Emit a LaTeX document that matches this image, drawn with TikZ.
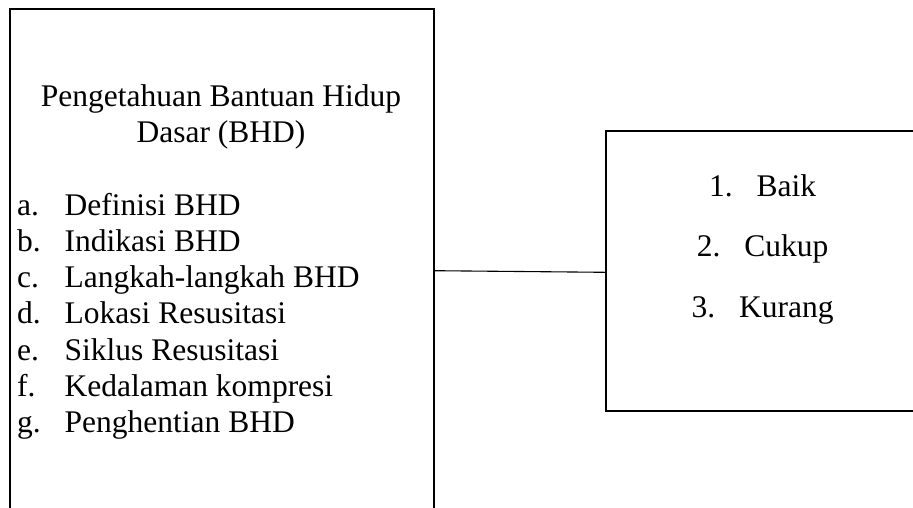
\documentclass[tikz,border=0pt]{standalone}
\usepackage{fontspec}
\setmainfont{Liberation Serif}
\usetikzlibrary{calc}
\begin{document}
\begin{tikzpicture}[x=1pt,y=-1pt,
  frame/.style={draw, line width=2.2pt, rectangle, inner sep=0pt, anchor=north west},
  txt/.style={inner sep=0pt, font=\fontsize{31.5}{36.3}\selectfont},
  item/.style={txt, anchor=base west},
  lineC/.style={txt, anchor=base},
  link/.style={draw, line width=1.1pt}]
\useasboundingbox (0,0) rectangle (913,507);
\newcommand{\lbl}[1]{\makebox[47.5pt][l]{#1}}

% the two frames (parts fall outside the page)
\node[frame, minimum width=424pt, minimum height=560pt] (lbox) at (9,8) {};
\node[frame, minimum width=316pt, minimum height=280pt] (rbox) at (605,130) {};

% heading of the left frame
\node[lineC] (t1) at (221,106) {Pengetahuan Bantuan Hidup};
\node[lineC] (t2) at (221,142.3) {Dasar (BHD)};

% lettered list
\node[item] (la) at (17,215.0) {\lbl{a.}Definisi BHD};
\node[item] (lb) at (17,251.3) {\lbl{b.}Indikasi BHD};
\node[item] (lc) at (17,287.6) {\lbl{c.}Langkah-langkah BHD};
\node[item] (ld) at (17,323.9) {\lbl{d.}Lokasi Resusitasi};
\node[item] (le) at (17,360.2) {\lbl{e.}Siklus Resusitasi};
\node[item] (lf) at (17,396.5) {\lbl{f.}Kedalaman kompresi};
\node[item] (lg) at (17,432.8) {\lbl{g.}Penghentian BHD};

% numbered categories
\node[lineC] (r1) at (762.7,196) {\lbl{1.}Baik};
\node[lineC] (r2) at (762.7,256.5) {\lbl{2.}Cukup};
\node[lineC] (r3) at (762.7,317) {\lbl{3.}Kurang};

% connector between the frames
\path (lbox.north east) ++(0,262.7) coordinate (lout);
\path (rbox.north west) ++(0,142.3) coordinate (rin);
\draw[link] (lout) -- (rin);
\end{tikzpicture}
\end{document}
